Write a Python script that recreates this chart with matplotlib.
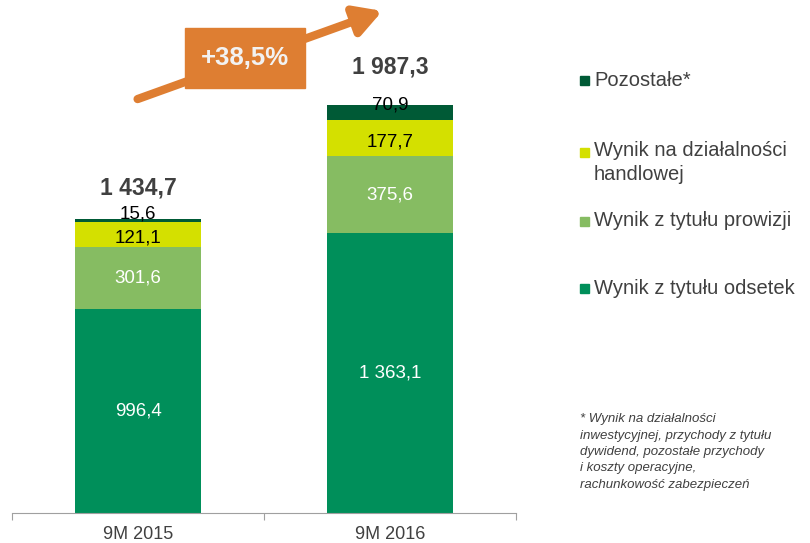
import matplotlib
matplotlib.use("Agg")
import matplotlib.pyplot as plt
import matplotlib.patches as mpatches
import numpy as np

plt.rcParams['font.family'] = ['Liberation Sans', 'DejaVu Sans']

categories = ["9M 2015", "9M 2016"]
odsetek = [996.4, 1363.1]
prowizji = [301.6, 375.6]
handlowej = [121.1, 177.7]
pozostale = [15.6, 70.9]
totals = [1434.7, 1987.3]
labels_odsetek = ["996,4", "1 363,1"]
labels_prowizji = ["301,6", "375,6"]
labels_handlowej = ["121,1", "177,7"]
labels_pozostale = ["15,6", "70,9"]
labels_totals = ["1 434,7", "1 987,3"]
growth_label = "+38,5%"
leg_names = ["Pozostałe*", "Wynik na działalności\nhandlowej",
             "Wynik z tytułu prowizji", "Wynik z tytułu odsetek"]
footnote = ("* Wynik na działalności\ninwestycyjnej, przychody z tytułu\n"
            "dywidend, pozostałe przychody\ni koszty operacyjne,\nrachunkowość zabezpieczeń")

colors = ["#008F5A", "#86BC62", "#D4E000", "#005A36"]

fig = plt.figure(figsize=(8.1, 5.43), dpi=100)
ax = fig.add_axes([12/810, 30/543, 504/810, 513/543])
x = np.arange(len(categories))
width = 0.5
data = [odsetek, prowizji, handlowej, pozostale]
bottom = np.zeros(2)
for vals, c in zip(data, colors):
    ax.bar(x, vals, width, bottom=bottom, color=c)
    bottom += np.array(vals)

ax.set_xlim(-0.5, 1.5)
ax.set_ylim(0, 2500)
for s in ["top", "right", "left"]:
    ax.spines[s].set_visible(False)
ax.spines["bottom"].set_color("#A0A0A0")
ax.set_yticks([])
ax.set_xticks([-0.5, 0.5, 1.5])
ax.set_xticklabels([])
ax.tick_params(axis="x", length=5, color="#A0A0A0")
for i, c in enumerate(categories):
    ax.text(x[i], -105, c, ha="center", va="center", fontsize=13, color="#404040")

txt_kw = dict(ha="center", va="center", fontsize=13.5)
total_offsets = [150, 185]
for i in range(2):
    ax.text(x[i], odsetek[i] / 2, labels_odsetek[i], color="white", **txt_kw)
    b1 = odsetek[i]
    ax.text(x[i], b1 + prowizji[i] / 2, labels_prowizji[i], color="white", **txt_kw)
    b2 = b1 + prowizji[i]
    ax.text(x[i], b2 + handlowej[i] / 2 - 20, labels_handlowej[i], color="black", **txt_kw)
    b3 = b2 + handlowej[i]
    ax.text(x[i], b3 + pozostale[i] + (20 if i == 0 else 0), labels_pozostale[i],
            color="black", **txt_kw)
    ax.text(x[i], totals[i] + total_offsets[i], labels_totals[i], ha="center", va="center",
            fontsize=16.5, fontweight="bold", color="#404040")

# growth arrow
fig.patches.append(mpatches.FancyArrowPatch(
    (135/810, 1 - 100/543), (385/810, 1 - 10/543), transform=fig.transFigure,
    arrowstyle="-|>,head_length=16,head_width=9", mutation_scale=1,
    color="#DE7E32", lw=6, figure=fig, zorder=1))
fig.patches.append(mpatches.Rectangle(
    (185/810, 1 - 88/543), 120/810, 60/543, transform=fig.transFigure,
    color="#DE7E32", figure=fig, zorder=2))
fig.text(245/810, 1 - 58/543, growth_label, ha="center", va="center",
         fontsize=18.5, fontweight="bold", color="#F2F2F2", zorder=3)

# legend
leg_y = [80, 152, 221, 288]
leg_cols = [colors[3], colors[2], colors[1], colors[0]]
for y, n, c in zip(leg_y, leg_names, leg_cols):
    fig.patches.append(mpatches.Rectangle(
        (580/810, 1 - (y + 5)/543), 9/810, 9/543, transform=fig.transFigure,
        color=c, figure=fig))
    if "\n" in n:
        fig.text(594/810, 1 - (y - 11)/543, n, ha="left", va="top",
                 fontsize=14.5, color="#404040", linespacing=1.3)
    else:
        fig.text(594/810, 1 - y/543, n, ha="left", va="center",
                 fontsize=14.5, color="#404040")

fig.text(580/810, 1 - 413/543, footnote, ha="left", va="top", fontsize=9.5,
         style="italic", color="#404040", linespacing=1.5)

fig.savefig("out.png", dpi=100)
